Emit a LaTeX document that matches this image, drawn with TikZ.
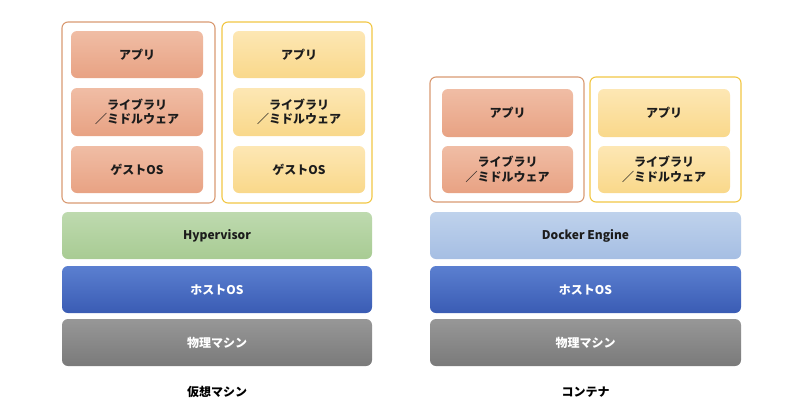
\documentclass[tikz,border=0pt]{standalone}
\usepackage{fontspec}
\setmainfont{Noto Sans CJK JP}
\definecolor{orTop}{HTML}{F0BDA5}
\definecolor{orBot}{HTML}{E8A283}
\definecolor{orLine}{HTML}{D99A72}
\definecolor{yeTop}{HTML}{FDE7B4}
\definecolor{yeBot}{HTML}{F9D88A}
\definecolor{yeLine}{HTML}{F2C744}
\definecolor{grTop}{HTML}{BEDAAF}
\definecolor{grBot}{HTML}{A8CB93}
\definecolor{blTop}{HTML}{5B7FD0}
\definecolor{blBot}{HTML}{3A5CB4}
\definecolor{gyTop}{HTML}{979797}
\definecolor{gyBot}{HTML}{7A7A7A}
\definecolor{dkTop}{HTML}{BFD2EC}
\definecolor{dkBot}{HTML}{A5BEE3}
\definecolor{txt}{HTML}{1C1C1C}
\tikzset{
  x=1pt, y=-1pt,
  base/.style={rounded corners=6pt, inner sep=0pt, align=center,
    font=\fontsize{12}{14.5}\selectfont\bfseries, text=txt},
  orbox/.style={base, top color=orTop, bottom color=orBot, minimum width=132pt},
  yebox/.style={base, top color=yeTop, bottom color=yeBot, minimum width=132pt},
  orframe/.style={draw=orLine, line width=1.1pt, rounded corners=6pt, fill=white},
  yeframe/.style={draw=yeLine, line width=1.1pt, rounded corners=6pt, fill=white},
  bar/.style={base, minimum height=47pt},
  hvbar/.style={bar, top color=grTop, bottom color=grBot},
  dkbar/.style={bar, top color=dkTop, bottom color=dkBot},
  osbar/.style={bar, top color=blTop, bottom color=blBot, text=white},
  hwbar/.style={bar, top color=gyTop, bottom color=gyBot, text=white},
  caption/.style={font=\fontsize{12}{14}\selectfont\bfseries, text=black}
}
\begin{document}
\begin{tikzpicture}
\path[use as bounding box, fill=white] (0,0) rectangle (803,418);

% ---------- Virtual machine ----------
\node[orframe, minimum width=153pt, minimum height=181pt] (vmL) at (138.5,112.5) {};
\node[yeframe, minimum width=150pt, minimum height=181pt] (vmR) at (297,112.5) {};

\node[orbox, minimum height=47pt] (vmLa) at (137,54.5) {アプリ};
\node[orbox, minimum height=48pt] (vmLb) at (137,112) {ライブラリ\\／ミドルウェア};
\node[orbox, minimum height=47pt] (vmLc) at (137,169.5) {ゲストOS};

\node[yebox, minimum height=47pt] (vmRa) at (299,54.5) {アプリ};
\node[yebox, minimum height=48pt] (vmRb) at (299,112) {ライブラリ\\／ミドルウェア};
\node[yebox, minimum height=47pt] (vmRc) at (299,169.5) {ゲストOS};

\node[hvbar, minimum width=310pt] (hv) at (217,235.5) {Hypervisor};
\node[osbar, minimum width=310pt] (vmos) at (217,289.5) {ホストOS};
\node[hwbar, minimum width=310pt] (vmhw) at (217,342.5) {物理マシン};
\node[caption] (vmcap) at (217,392) {仮想マシン};

% ---------- Container ----------
\node[orframe, minimum width=154pt, minimum height=125pt] (ctL) at (507,139.5) {};
\node[yeframe, minimum width=151pt, minimum height=125pt] (ctR) at (665.5,139.5) {};

\node[orbox, minimum width=131pt, minimum height=48pt] (ctLa) at (507.5,113) {アプリ};
\node[orbox, minimum width=131pt, minimum height=47pt] (ctLb) at (507.5,169.5) {ライブラリ\\／ミドルウェア};

\node[yebox, minimum height=48pt] (ctRa) at (664,113) {アプリ};
\node[yebox, minimum height=47pt] (ctRb) at (664,169.5) {ライブラリ\\／ミドルウェア};

\node[dkbar, minimum width=311pt] (dk) at (585.5,235.5) {Docker Engine};
\node[osbar, minimum width=311pt] (ctos) at (585.5,289.5) {ホストOS};
\node[hwbar, minimum width=311pt] (cthw) at (585.5,342.5) {物理マシン};
\node[caption] (ctcap) at (585.5,392) {コンテナ};
\end{tikzpicture}
\end{document}
